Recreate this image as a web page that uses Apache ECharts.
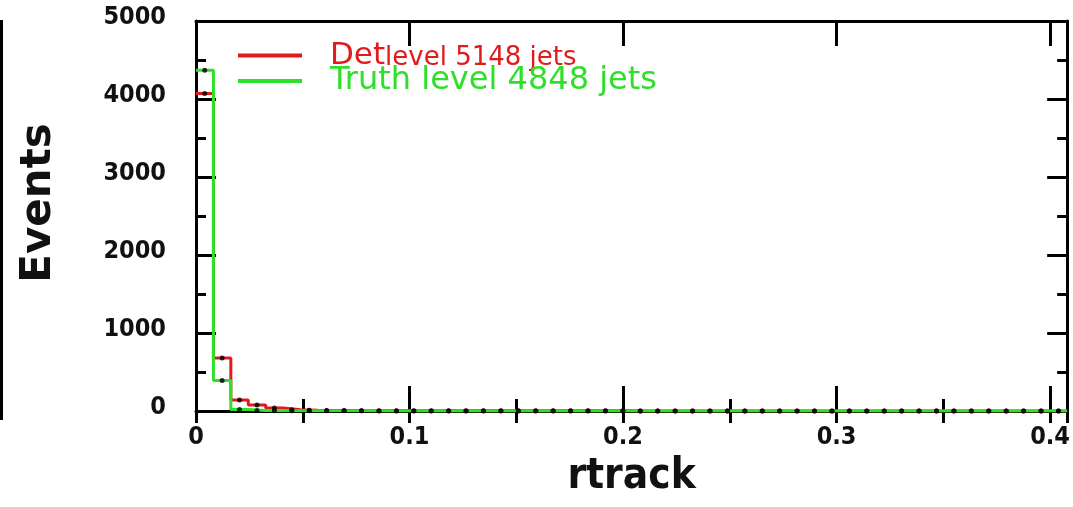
<!DOCTYPE html>
<html><head><meta charset="utf-8">
<script src="https://cdn.jsdelivr.net/npm/echarts@6/dist/echarts.min.js"></script>
<style>html,body{margin:0;padding:0;background:#fff}#c{width:1073px;height:507px}</style>
</head><body><div id="c"></div>
<script>
// ---- data ----
const binWidth = 0.00816;
const xTickLabels = ['0', '0.1', '0.2', '0.3', '0.4'];
const yTickLabels = ['0', '1000', '2000', '3000', '4000', '5000'];
const detName = 'Det';
const detSub = 'level 5148 jets';
const truthName = 'Truth level 4848 jets';
const detCounts = [4070, 680, 140, 77, 38, 15, 9, 6, 5, 4, 4, 3, 3, 3, 3,
  2, 2, 2, 2, 2, 2, 2, 2, 2, 2,
  1, 1, 1, 1, 1, 1, 1, 1, 1, 1, 1, 1, 1, 1, 1, 1, 1, 1, 1, 1, 1, 1,
  0, 0, 0];
const truthCounts = [4370, 390, 18, 6, 4, 3, 2, 2, 2, 2,
  1, 1, 1, 1, 1, 1, 1, 1, 1, 1, 1, 1, 1, 1, 1, 1, 1, 1, 1, 1,
  1, 1, 1, 1, 1, 1, 1, 1, 1, 1,
  0, 0, 0, 0, 0, 0, 0, 0, 0, 0];

// ---- styles ----
const RED = '#e31a1c', GREEN = '#2ee02a', BLACK = '#000';
const tickFont = "'DejaVu Sans Condensed', 'DejaVu Sans', sans-serif";

function stepData(counts) {
  const d = counts.map((v, i) => [i * binWidth, v]);
  d.push([counts.length * binWidth, counts[counts.length - 1]]);
  return d;
}
function centerData(counts) {
  return counts.map((v, i) => [(i + 0.5) * binWidth, v]);
}
const xMax = detCounts.length * binWidth;

function xLabel(v) {
  const k = Math.round(v * 10);
  if (Math.abs(v * 10 - k) < 1e-6 && k < xTickLabels.length) return xTickLabels[k];
  return '';
}
function yLabel(v) {
  const k = Math.round(v / 1000);
  return yTickLabels[k] !== undefined ? yTickLabels[k] : '';
}

const xBase = { type: 'value', min: 0, max: xMax, splitLine: { show: false } };
const yBase = { type: 'value', min: 0, max: 5000, interval: 1000, splitLine: { show: false } };

const chart = echarts.init(document.getElementById('c'), null, { renderer: 'canvas' });
chart.setOption({
  animation: false,
  backgroundColor: '#fff',
  grid: { left: 196, right: 5, top: 21, bottom: 96, containLabel: false },
  xAxis: [
    Object.assign({}, xBase, {
      position: 'bottom', interval: 0.1,
      axisLine: { show: true, onZero: false, lineStyle: { color: BLACK, width: 3 } },
      axisTick: { show: true, inside: true, length: 25, lineStyle: { color: BLACK, width: 3 } },
      axisLabel: { show: true, margin: 14, formatter: xLabel, color: '#111', fontSize: 25, fontWeight: 'bold', fontFamily: tickFont, showMaxLabel: false },
      name: 'rtrack', nameLocation: 'middle', nameGap: 45,
      nameTextStyle: { fontSize: 42, fontWeight: 'bold', color: '#111', fontFamily: tickFont }
    }),
    Object.assign({}, xBase, {
      position: 'bottom', interval: 0.05,
      axisLine: { show: false },
      axisTick: { show: true, inside: true, length: 12, lineStyle: { color: BLACK, width: 3 } },
      axisLabel: { show: false }
    }),
    Object.assign({}, xBase, {
      position: 'top', interval: 0.1,
      axisLine: { show: true, onZero: false, lineStyle: { color: BLACK, width: 3 } },
      axisTick: { show: true, inside: true, length: 25, lineStyle: { color: BLACK, width: 3 } },
      axisLabel: { show: false }
    }),
    Object.assign({}, xBase, {
      position: 'top', interval: 0.05,
      axisLine: { show: false },
      axisTick: { show: true, inside: true, length: 12, lineStyle: { color: BLACK, width: 3 } },
      axisLabel: { show: false }
    })
  ],
  yAxis: [
    Object.assign({}, yBase, {
      position: 'left',
      axisLine: { show: true, onZero: false, lineStyle: { color: BLACK, width: 3 } },
      axisTick: { show: true, inside: true, length: 20, lineStyle: { color: BLACK, width: 3 } },
      minorTick: { show: true, splitNumber: 2, length: 10, lineStyle: { color: BLACK, width: 3 } },
      axisLabel: { show: true, margin: 30, formatter: yLabel, color: '#111', fontSize: 25, fontWeight: 'bold', fontFamily: tickFont, verticalAlign: 'bottom', lineHeight: 8 },
      name: 'Events', nameLocation: 'middle', nameGap: 136,
      nameTextStyle: { fontSize: 42, fontWeight: 'bold', color: '#111', fontFamily: "'DejaVu Sans', sans-serif", padding: [0, 0, 0, 26] }
    }),
    Object.assign({}, yBase, {
      position: 'right',
      axisLine: { show: true, onZero: false, lineStyle: { color: BLACK, width: 3 } },
      axisTick: { show: true, inside: true, length: 20, lineStyle: { color: BLACK, width: 3 } },
      minorTick: { show: true, splitNumber: 2, length: 10, lineStyle: { color: BLACK, width: 3 } },
      axisLabel: { show: false }
    })
  ],
  legend: [
    {
      data: [detName], left: 233, top: 35, orient: 'vertical', icon: 'rect',
      itemWidth: 64, itemHeight: 4, selectedMode: false,
      formatter: () => '{a|' + detName + '}{b|' + detSub + '}',
      textStyle: {
        padding: [0, 0, 0, 23],
        rich: {
          a: { fontSize: 31, lineHeight: 32, color: RED, fontFamily: "'DejaVu Sans', sans-serif" },
          b: { fontSize: 26, lineHeight: 20, verticalAlign: 'bottom', color: RED, fontFamily: "'DejaVu Sans', sans-serif" }
        }
      }
    },
    {
      data: [truthName], left: 233, top: 60, orient: 'vertical', icon: 'rect',
      itemWidth: 64, itemHeight: 4, selectedMode: false,
      textStyle: { padding: [0, 0, 0, 23], fontSize: 32, lineHeight: 32, color: GREEN, fontFamily: "'DejaVu Sans', sans-serif" }
    }
  ],
  graphic: [
    { type: 'rect', shape: { x: 0, y: 20, width: 3, height: 400 }, style: { fill: BLACK } }
  ],
  series: [
    {
      name: detName, type: 'line', step: 'end', data: stepData(detCounts), showSymbol: false,
      xAxisIndex: 0, yAxisIndex: 0, color: RED, lineStyle: { color: RED, width: 3 }, z: 2
    },
    {
      name: truthName, type: 'line', step: 'end', data: stepData(truthCounts), showSymbol: false,
      xAxisIndex: 0, yAxisIndex: 0, color: GREEN, lineStyle: { color: GREEN, width: 3 }, z: 3
    },
    {
      name: 'detPoints', type: 'scatter', data: centerData(detCounts), symbolSize: 5,
      itemStyle: { color: BLACK }, xAxisIndex: 0, yAxisIndex: 0, z: 4
    },
    {
      name: 'truthPoints', type: 'scatter', data: centerData(truthCounts), symbolSize: 5,
      itemStyle: { color: BLACK }, xAxisIndex: 0, yAxisIndex: 0, z: 4
    }
  ]
});
</script></body></html>
